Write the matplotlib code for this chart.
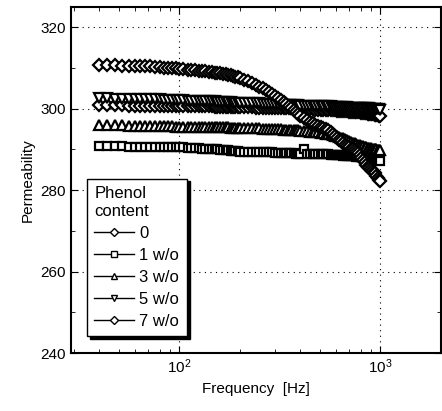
import numpy as np
import matplotlib
matplotlib.use("Agg")
import matplotlib.pyplot as plt
from matplotlib.lines import Line2D
from matplotlib.ticker import MultipleLocator

plt.rcParams['font.family'] = ['Liberation Sans', 'DejaVu Sans']

# frequency sampling [Hz]
freq = [40, 44, 48, 52, 56, 60, 64, 68, 72, 76, 80, 84, 88, 92, 96, 100,
        105, 110, 115, 120, 125, 130, 135, 140, 145, 150, 155, 160, 165, 170, 175, 180, 185, 190, 195, 200,
        210, 220, 230, 240, 250, 260, 270, 280, 290, 300, 310, 320, 330, 340, 350, 360, 370, 380, 390, 400,
        415, 430, 445, 460, 475, 490, 505, 520, 535, 550, 565, 580, 595, 610, 625, 640, 655, 670, 685, 700,
        715, 730, 745, 760, 775, 790, 805, 820, 835, 850, 865, 880, 895, 910, 925, 940, 955, 970, 985, 1000]

perm_0 = [300.9, 300.9, 300.9, 300.9, 300.8, 300.8, 300.8, 300.8, 300.8, 300.8, 300.7, 300.7, 300.7, 300.7, 300.7, 300.7,
          300.7, 300.7, 300.6, 300.6, 300.6, 300.6, 300.6, 300.6, 300.6, 300.5, 300.5, 300.5, 300.5, 300.5, 300.5, 300.5, 300.5, 300.4, 300.4, 300.4,
          300.4, 300.4, 300.4, 300.3, 300.3, 300.3, 300.3, 300.3, 300.2, 300.2, 300.2, 300.2, 300.2, 300.1, 300.1, 300.1, 300.1, 300.0, 300.0, 300.0,
          300.0, 299.9, 299.9, 299.9, 299.8, 299.8, 299.8, 299.7, 299.7, 299.7, 299.6, 299.6, 299.6, 299.5, 299.5, 299.5, 299.4, 299.4, 299.4, 299.3,
          299.3, 299.2, 299.2, 299.2, 299.1, 299.1, 299.0, 299.0, 298.9, 298.9, 298.8, 298.8, 298.7, 298.7, 298.6, 298.5, 298.5, 298.4, 298.3, 298.2]

perm_1 = [290.8, 290.8, 290.8, 290.8, 290.7, 290.7, 290.7, 290.7, 290.7, 290.6, 290.6, 290.6, 290.6, 290.5, 290.5, 290.5,
          290.5, 290.4, 290.4, 290.3, 290.3, 290.2, 290.2, 290.1, 290.1, 290.0, 290.0, 289.9, 289.9, 289.8, 289.8, 289.7, 289.7, 289.6, 289.6, 289.5,
          289.5, 289.5, 289.4, 289.4, 289.4, 289.3, 289.3, 289.3, 289.3, 289.2, 289.2, 289.2, 289.2, 289.1, 289.1, 289.1, 289.1, 289.0, 289.0, 289.0,
          290.2, 289.0, 288.9, 288.9, 288.9, 288.9, 288.8, 288.8, 288.8, 288.8, 288.7, 288.7, 288.7, 288.6, 288.6, 288.6, 288.5, 288.5, 288.5, 288.4,
          288.4, 288.3, 288.3, 288.2, 288.2, 288.1, 288.1, 288.0, 288.0, 287.9, 287.9, 287.8, 287.8, 287.7, 287.6, 287.6, 287.5, 287.4, 287.3, 287.2]

perm_3 = [295.9, 295.9, 295.9, 295.9, 295.8, 295.8, 295.8, 295.8, 295.8, 295.7, 295.7, 295.7, 295.7, 295.7, 295.6, 295.6,
          295.6, 295.6, 295.6, 295.5, 295.5, 295.5, 295.5, 295.5, 295.5, 295.4, 295.4, 295.4, 295.4, 295.4, 295.4, 295.3, 295.3, 295.3, 295.3, 295.3,
          295.3, 295.2, 295.2, 295.2, 295.2, 295.1, 295.1, 295.1, 295.1, 295.0, 295.0, 295.0, 294.9, 294.9, 294.9, 294.8, 294.8, 294.7, 294.7, 294.6,
          294.6, 294.5, 294.4, 294.4, 294.3, 294.2, 294.1, 294.0, 293.9, 293.8, 293.7, 293.5, 293.4, 293.2, 293.1, 292.9, 292.7, 292.5, 292.3, 292.1,
          291.9, 291.7, 291.5, 291.3, 291.2, 291.0, 290.9, 290.8, 290.6, 290.5, 290.4, 290.4, 290.3, 290.2, 290.1, 290.1, 290.0, 289.9, 289.9, 289.8]

perm_5 = [302.6, 302.6, 302.5, 302.5, 302.5, 302.4, 302.4, 302.4, 302.3, 302.3, 302.3, 302.2, 302.2, 302.2, 302.1, 302.1,
          302.1, 302.0, 302.0, 302.0, 301.9, 301.9, 301.9, 301.8, 301.8, 301.8, 301.7, 301.7, 301.7, 301.6, 301.6, 301.6, 301.5, 301.5, 301.5, 301.5,
          301.4, 301.4, 301.3, 301.3, 301.3, 301.2, 301.2, 301.2, 301.1, 301.1, 301.1, 301.0, 301.0, 301.0, 301.0, 300.9, 300.9, 300.9, 300.9, 300.8,
          300.8, 300.8, 300.8, 300.7, 300.7, 300.7, 300.7, 300.6, 300.6, 300.6, 300.6, 300.5, 300.5, 300.5, 300.5, 300.4, 300.4, 300.4, 300.4, 300.3,
          300.3, 300.3, 300.3, 300.3, 300.2, 300.2, 300.2, 300.2, 300.1, 300.1, 300.1, 300.1, 300.0, 300.0, 300.0, 300.0, 299.9, 299.9, 299.9, 299.8]

perm_7 = [310.8, 310.7, 310.7, 310.6, 310.6, 310.5, 310.5, 310.4, 310.4, 310.3, 310.2, 310.1, 310.0, 310.0, 309.9, 309.8,
          309.7, 309.6, 309.5, 309.5, 309.4, 309.3, 309.2, 309.1, 309.0, 308.9, 308.8, 308.7, 308.6, 308.5, 308.3, 308.2, 308.0, 307.9, 307.7, 307.5,
          307.1, 306.7, 306.3, 305.9, 305.4, 305.0, 304.5, 304.1, 303.6, 303.2, 302.7, 302.2, 301.7, 301.2, 300.7, 300.2, 299.7, 299.2, 298.7, 298.3,
          297.8, 297.2, 296.8, 296.4, 296.1, 295.8, 295.6, 295.3, 295.0, 294.7, 294.3, 293.9, 293.4, 292.9, 292.4, 292.0, 291.6, 291.2, 290.8, 290.5,
          290.2, 290.0, 289.8, 289.5, 289.1, 288.6, 288.0, 287.4, 286.8, 286.3, 285.8, 285.4, 285.1, 284.8, 284.5, 284.1, 283.6, 283.1, 282.6, 282.2]

labels = ["0", "1 w/o", "3 w/o", "5 w/o", "7 w/o"]
series = [perm_0, perm_1, perm_3, perm_5, perm_7]
markers = ["D", "s", "^", "v", "D"]
sizes = [6, 5.5, 6.5, 6.5, 6]

fig = plt.figure(figsize=(4.42, 4.11), dpi=100)
ax = fig.add_axes([71 / 442, 58 / 411, 370 / 442, 346 / 411])

for y, m, ms in zip(series, markers, sizes):
    ax.plot(freq, y, linestyle="none", marker=m, ms=ms,
            mfc="white", mec="black", mew=1.6)

ax.set_xscale("log")
ax.set_xlim(29, 2000)
ax.set_ylim(240, 325)
ax.yaxis.set_major_locator(MultipleLocator(20))
ax.yaxis.set_minor_locator(MultipleLocator(10))
ax.tick_params(which="both", direction="in", top=True, right=True, labelsize=11)
ax.tick_params(which="major", length=5)
ax.tick_params(which="minor", length=3)
ax.grid(True, which="major", linestyle=(0, (1, 4)), color="black", lw=0.8)
for s in ax.spines.values():
    s.set_linewidth(1.5)

ax.set_xlabel("Frequency  [Hz]", fontsize=11)
ax.set_ylabel("Permeability", fontsize=11)

# legend entries drawn as line + small open marker
handles = [Line2D([], [], color="black", lw=1, marker=m, ms=4.5,
                  mfc="white", mec="black", mew=1) for m in markers]
leg = ax.legend(handles, labels, title="Phenol\ncontent", loc="lower left",
                bbox_to_anchor=(0.043, 0.049), fontsize=12, title_fontsize=12,
                frameon=True, fancybox=False, edgecolor="black", framealpha=1,
                shadow={"color": "black", "alpha": 1}, handlelength=2.4,
                handletextpad=0.3, labelspacing=0.42, borderpad=0.45,
                borderaxespad=0, alignment="left")
leg.get_frame().set_linewidth(1.0)

fig.savefig("out.png", dpi=100)
